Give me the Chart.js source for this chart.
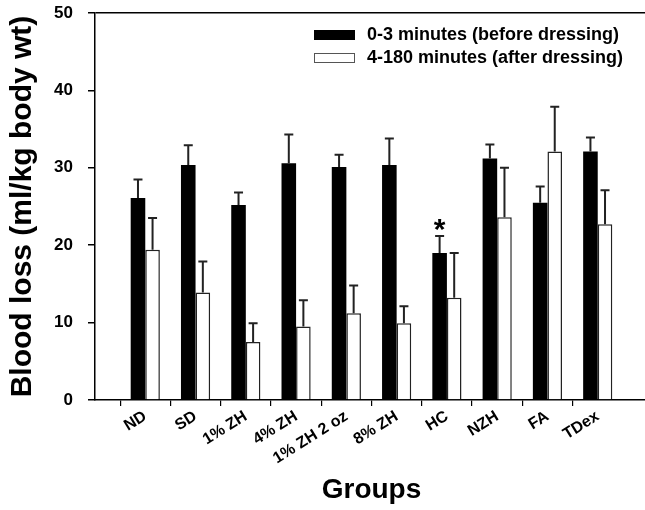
<!DOCTYPE html>
<html>
<head>
<meta charset="utf-8">
<script src="https://cdn.jsdelivr.net/npm/chart.js@4.4.1/dist/chart.umd.min.js"></script>
<style>
html,body{margin:0;padding:0;overflow:hidden;background:#fff;}
canvas{display:block;}
</style>
</head>
<body>
<canvas id="c" width="650" height="510"></canvas>
<script>
const categories = ['ND','SD','1% ZH','4% ZH','1% ZH 2 oz','8% ZH','HC','NZH','FA','TDex'];
const beforeLabel = '0-3 minutes (before dressing)';
const afterLabel = '4-180 minutes (after dressing)';
const beforeValues = [26.1, 30.35, 25.2, 30.6, 30.1, 30.35, 19.0, 31.2, 25.5, 32.1];
const beforeErrors = [2.4, 2.55, 1.6, 3.7, 1.6, 3.45, 2.2, 1.8, 2.1, 1.8];
const afterValues = [19.4, 13.9, 7.5, 9.5, 11.2, 9.9, 13.2, 23.6, 32.1, 22.7];
const afterErrors = [4.1, 4.0, 2.4, 3.4, 3.6, 2.2, 5.8, 6.4, 5.8, 4.4];
const significant = ['HC'];
const yTicks = [0, 10, 20, 30, 40, 50];

const FONT = "'Liberation Sans', Arial, Helvetica, sans-serif";
const labels = ['', ...categories, ''];
const pad = arr => [null, ...arr, null];
const errorSets = [pad(beforeErrors), pad(afterErrors)];

const errorBarPlugin = {
  id: 'errorBars',
  afterDatasetsDraw(chart) {
    const ctx = chart.ctx;
    const y = chart.scales.y;
    ctx.save();
    chart.data.datasets.forEach((ds, i) => {
      const meta = chart.getDatasetMeta(i);
      meta.data.forEach((bar, j) => {
        const v = ds.data[j];
        const e = errorSets[i][j];
        if (v == null || e == null) return;
        const top = y.getPixelForValue(v + e);
        ctx.strokeStyle = '#222';
        ctx.lineWidth = 2;
        ctx.beginPath();
        ctx.moveTo(bar.x, bar.y);
        ctx.lineTo(bar.x, top);
        ctx.moveTo(bar.x - 4.5, top);
        ctx.lineTo(bar.x + 4.5, top);
        ctx.stroke();
        if (i === 0 && significant.includes(labels[j])) {
          ctx.fillStyle = '#000';
          ctx.font = 'bold 30px ' + FONT;
          ctx.textAlign = 'center';
          ctx.textBaseline = 'alphabetic';
          ctx.fillText('*', bar.x, top + 3);
        }
      });
    });
    ctx.restore();
  }
};

const legendPlugin = {
  id: 'customLegend',
  afterDraw(chart) {
    const ctx = chart.ctx;
    ctx.save();
    const x0 = 314, rows = [35, 58];
    chart.data.datasets.forEach((ds, i) => {
      const cy = rows[i];
      ctx.fillStyle = ds.backgroundColor;
      ctx.fillRect(x0, cy - 5, 41, 10);
      if (i === 1) {
        ctx.strokeStyle = '#555';
        ctx.lineWidth = 1;
        ctx.strokeRect(x0 + 0.5, cy - 4.5, 40, 9);
      }
      ctx.fillStyle = '#000';
      ctx.font = 'bold 18px ' + FONT;
      ctx.textAlign = 'left';
      ctx.textBaseline = 'middle';
      ctx.fillText(ds.label, x0 + 53, cy);
    });
    ctx.restore();
  }
};

new Chart(document.getElementById('c'), {
  type: 'bar',
  data: {
    labels: labels,
    datasets: [
      { label: beforeLabel, data: pad(beforeValues), backgroundColor: '#000', borderWidth: 0 },
      { label: afterLabel, data: pad(afterValues), backgroundColor: '#fff', borderColor: '#222', borderWidth: 1.5 }
    ]
  },
  options: {
    responsive: false,
    animation: false,
    layout: { padding: { top: 13, right: 2, left: 0, bottom: 0 } },
    datasets: { bar: { categoryPercentage: 0.58, barPercentage: 1.0 } },
    plugins: { legend: { display: false }, tooltip: { enabled: false } },
    scales: {
      x: {
        offset: false,
        afterFit(s) { s.height = 110; s.paddingLeft = 0; s.paddingRight = 0; s.paddingTop = 0; s.paddingBottom = 0; },
        border: { display: true, color: '#000', width: 1.5 },
        grid: {
          drawOnChartArea: false,
          tickLength: 6,
          tickColor: c => (c.index === 0 || c.index === labels.length - 1) ? 'rgba(0,0,0,0)' : '#000',
          lineWidth: 1.2
        },
        ticks: {
          autoSkip: false,
          minRotation: 32,
          maxRotation: 32,
          padding: 1,
          color: '#000',
          font: { family: FONT, size: 16, weight: 'bold' }
        },
        title: {
          display: true,
          text: 'Groups',
          color: '#000',
          font: { family: FONT, size: 28, weight: 'bold' },
          padding: { top: 0, bottom: 3 }
        }
      },
      y: {
        min: 0,
        max: 50,
        afterFit(s) { s.width = 95; s.paddingTop = 0; s.paddingBottom = 0; s.paddingLeft = 0; s.paddingRight = 0; },
        afterBuildTicks(s) { s.ticks = yTicks.map(v => ({ value: v })); },
        border: { display: true, color: '#000', width: 1.5 },
        grid: {
          drawOnChartArea: true,
          color: c => (c.tick && c.tick.value === 50) ? '#000' : 'rgba(0,0,0,0)',
          tickColor: '#000',
          tickLength: 7,
          lineWidth: 1.5
        },
        ticks: {
          padding: 15,
          color: '#000',
          font: { family: FONT, size: 17, weight: 'bold' }
        },
        title: {
          display: true,
          text: 'Blood loss (ml/kg body wt)',
          color: '#000',
          font: { family: FONT, size: 30, weight: 'bold' },
          padding: { top: 5, bottom: 0 }
        }
      }
    }
  },
  plugins: [errorBarPlugin, legendPlugin]
});
</script>
</body>
</html>
